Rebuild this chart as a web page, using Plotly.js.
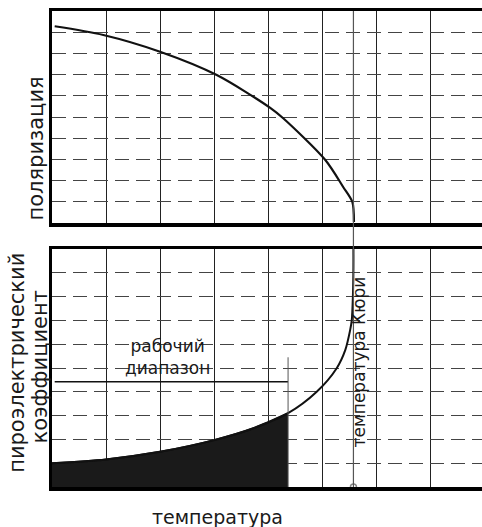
<!DOCTYPE html>
<html>
<head>
<meta charset="utf-8">
<script src="https://cdn.plot.ly/plotly-3.0.1.min.js"></script>
<style>html,body{margin:0;padding:0;background:#fff;}#chart{width:482px;height:527px;}</style>
</head>
<body>
<div id="chart"></div>
<script>
// Polarization vs temperature (top panel), grid units
const polTemp = [0.05, 0.95, 2.0, 3.05, 4.04, 4.28, 5.06, 5.39, 5.56, 5.59];
const polValue = [9.28, 8.87, 8.08, 6.98, 5.43, 4.94, 2.97, 1.70, 0.99, 0.05];

// Pyroelectric coefficient vs temperature (bottom panel)
const pyroTemp = [0.0, 1.0, 2.0, 3.0, 3.73, 4.37, 4.9, 5.27, 5.43, 5.52, 5.55, 5.57, 5.58, 5.58];
const pyroValue = [1.0, 1.16, 1.48, 1.97, 2.47, 3.1, 4.0, 4.99, 5.76, 6.6, 7.02, 8.0, 9.26, 10.0];

// Working range and Curie temperature
const workRangeEnd = 4.37;
const workRangeLevel = 4.42;
const workRangeTop = 5.45;
const curieTemp = 5.58;

const labels = {
  x: "температура",
  yTop: "поляризация",
  yBottom1: "пироэлектрический",
  yBottom2: "коэффициент",
  range: "рабочий<br>диапазон",
  curie: "температура Кюри"
};

const fillT = [], fillV = [];
pyroTemp.forEach((t, i) => { if (t <= workRangeEnd) { fillT.push(t); fillV.push(pyroValue[i]); } });

const FONT = "DejaVu Sans, sans-serif";
const traces = [
  {x: fillT, y: fillV, xaxis: "x", yaxis: "y", mode: "lines", line: {color: "#111", width: 2, shape: "spline", smoothing: 0.8},
   fill: "tozeroy", fillcolor: "#1a1a1a", hoverinfo: "skip"},
  {x: pyroTemp, y: pyroValue, xaxis: "x", yaxis: "y", mode: "lines", line: {color: "#111", width: 2, shape: "spline", smoothing: 0.8}},
  {x: polTemp, y: polValue, xaxis: "x2", yaxis: "y2", mode: "lines", line: {color: "#111", width: 2.2, shape: "spline", smoothing: 0.8}},
  {x: [0.05, workRangeEnd], y: [workRangeLevel, workRangeLevel], xaxis: "x", yaxis: "y", mode: "lines", line: {color: "#111", width: 1.5}},
  {x: [workRangeEnd, workRangeEnd], y: [0, workRangeTop], xaxis: "x", yaxis: "y", mode: "lines", line: {color: "#555", width: 1}},
  {x: [curieTemp], y: [0], xaxis: "x", yaxis: "y", mode: "markers", cliponaxis: false,
   marker: {symbol: "circle-open", size: 6, color: "#888", line: {width: 1.5}}}
];

const xa = {range: [0, 7.96], dtick: 1, showgrid: true, gridcolor: "#222", gridwidth: 1,
  zeroline: false, showticklabels: false, ticks: "", showline: true, linecolor: "#000", linewidth: 3.5, mirror: true};
const ya = {range: [0, 10], dtick: 1, showgrid: true, gridcolor: "#444", gridwidth: 1, griddash: "14px,7px",
  zeroline: false, showticklabels: false, ticks: "", showline: true, linecolor: "#000", linewidth: 3.5, mirror: false};

const layout = {
  width: 482, height: 527,
  margin: {l: 52, r: 0, t: 11, b: 40},
  paper_bgcolor: "#fff", plot_bgcolor: "#fff",
  showlegend: false,
  font: {family: FONT, color: "#1a1a1a"},
  xaxis: Object.assign({}, xa, {anchor: "y"}),
  yaxis: Object.assign({}, ya, {domain: [0, 0.5], anchor: "x"}),
  xaxis2: Object.assign({}, xa, {anchor: "y2", matches: "x"}),
  yaxis2: Object.assign({}, ya, {domain: [0.5546, 1], anchor: "x2"}),
  shapes: [
    {type: "line", xref: "x", yref: "paper", x0: curieTemp, x1: curieTemp, y0: 0, y1: 1,
     line: {color: "#555", width: 1.2}}
  ],
  annotations: [
    {text: labels.x, xref: "paper", yref: "paper", x: 0.384, y: -0.063, showarrow: false,
     xanchor: "center", yanchor: "middle", font: {size: 19, family: FONT}},
    {text: labels.yTop, xref: "paper", yref: "paper", x: -0.036, y: 0.71, textangle: -90, showarrow: false,
     xanchor: "center", yanchor: "middle", font: {size: 21, family: FONT}},
    {text: labels.yBottom1, xref: "paper", yref: "paper", x: -0.080, y: 0.26, textangle: -90, showarrow: false,
     xanchor: "center", yanchor: "middle", font: {size: 21, family: FONT}},
    {text: labels.yBottom2, xref: "paper", yref: "paper", x: -0.027, y: 0.252, textangle: -90, showarrow: false,
     xanchor: "center", yanchor: "middle", font: {size: 21, family: FONT}},
    {text: labels.range, xref: "x", yref: "y", x: 2.14, y: 5.47, showarrow: false,
     xanchor: "center", yanchor: "middle", borderpad: 0, font: {size: 17, family: FONT}},
    {text: labels.curie, xref: "x", yref: "y", x: 5.69, y: 5.25, textangle: -90, showarrow: false,
     xanchor: "center", yanchor: "middle", font: {size: 17, family: FONT}}
  ]
};

Plotly.newPlot("chart", traces, layout, {displayModeBar: false, staticPlot: true});
</script>
</body>
</html>
